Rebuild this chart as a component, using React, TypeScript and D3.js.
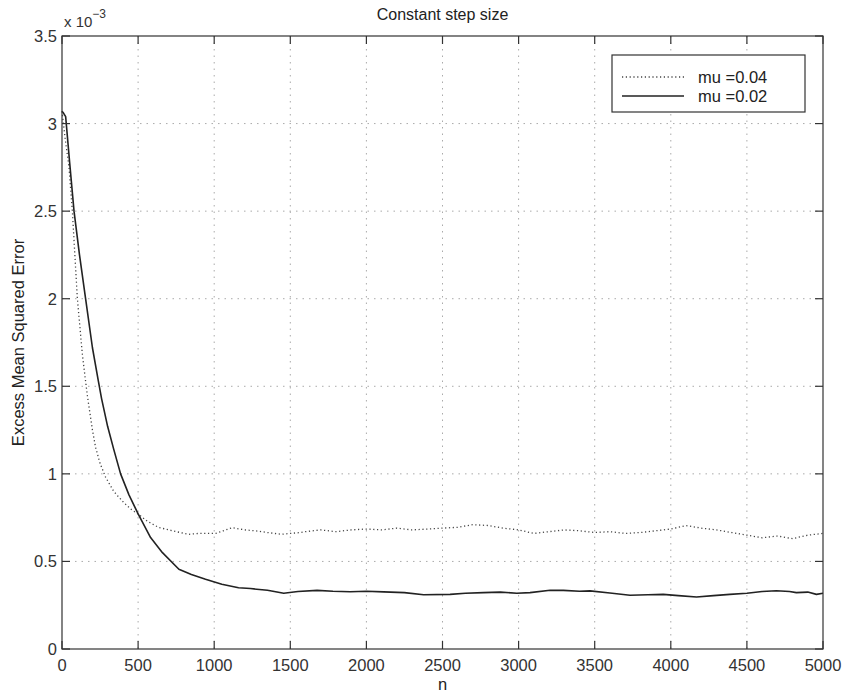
import React from "react";
import * as d3 from "d3";

const xTicks = [0, 500, 1000, 1500, 2000, 2500, 3000, 3500, 4000, 4500, 5000];
const yTicks = [0, 0.5, 1, 1.5, 2, 2.5, 3, 3.5];
const yTickLabels = ["0", "0.5", "1", "1.5", "2", "2.5", "3", "3.5"];

const nMu04 = [0, 20, 46, 68, 101, 134, 166, 200, 221, 250, 287, 340, 396, 450, 501, 560, 637, 680, 750, 834, 900, 1010, 1060, 1118, 1200, 1270, 1350, 1440, 1500, 1570, 1600, 1700, 1800, 1900, 2000, 2100, 2200, 2300, 2400, 2500, 2600, 2700, 2800, 2900, 3000, 3100, 3200, 3300, 3400, 3500, 3600, 3700, 3800, 3900, 4000, 4100, 4200, 4300, 4400, 4500, 4600, 4700, 4800, 4900, 5000];
const vMu04 = [3.07, 2.92, 2.75, 2.5, 2.0, 1.68, 1.45, 1.25, 1.15, 1.06, 0.98, 0.9, 0.845, 0.8, 0.77, 0.73, 0.693, 0.685, 0.67, 0.655, 0.66, 0.66, 0.675, 0.693, 0.68, 0.675, 0.665, 0.655, 0.66, 0.665, 0.67, 0.68, 0.67, 0.68, 0.685, 0.68, 0.69, 0.68, 0.685, 0.69, 0.695, 0.71, 0.705, 0.69, 0.68, 0.66, 0.67, 0.68, 0.675, 0.665, 0.67, 0.66, 0.665, 0.675, 0.685, 0.705, 0.69, 0.68, 0.665, 0.65, 0.635, 0.645, 0.63, 0.65, 0.66];

const nMu02 = [0, 10, 24, 50, 79, 115, 155, 200, 239, 260, 300, 340, 385, 440, 501, 582, 660, 768, 850, 943, 1050, 1160, 1238, 1350, 1457, 1550, 1676, 1780, 1894, 2000, 2113, 2250, 2376, 2550, 2650, 2769, 2880, 2988, 3075, 3207, 3294, 3400, 3469, 3600, 3732, 3850, 3950, 4050, 4169, 4280, 4388, 4500, 4600, 4694, 4780, 4825, 4900, 4957, 5000];
const vMu02 = [3.07, 3.06, 3.04, 2.78, 2.5, 2.25, 2.0, 1.72, 1.53, 1.43, 1.27, 1.14, 1.0, 0.88, 0.77, 0.636, 0.55, 0.455, 0.425, 0.398, 0.37, 0.35, 0.345, 0.335, 0.318, 0.328, 0.335, 0.33, 0.327, 0.33, 0.326, 0.322, 0.31, 0.312, 0.318, 0.322, 0.325, 0.318, 0.322, 0.335, 0.335, 0.33, 0.332, 0.32, 0.307, 0.31, 0.312, 0.305, 0.297, 0.305, 0.312, 0.318, 0.328, 0.333, 0.328, 0.322, 0.325, 0.312, 0.318];

const legendLabels = ["mu =0.04", "mu =0.02"];

const W = 844, H = 693;
const L = 62, R = 823, T = 36, B = 649;
const FONT = "'Liberation Sans', Arial, Helvetica, sans-serif";

export default function App() {
  const x = d3.scaleLinear().domain([0, 5000]).range([L, R]);
  const y = d3.scaleLinear().domain([0, 3.5]).range([B, T]);
  const line = d3.line<[number, number]>().x(d => x(d[0])).y(d => y(d[1]));
  const d04 = line(nMu04.map((n, i) => [n, vMu04[i]]) as [number, number][]) || "";
  const d02 = line(nMu02.map((n, i) => [n, vMu02[i]]) as [number, number][]) || "";
  const tl = 8;
  const lgL = 612, lgR = 805, lgT = 55, lgB = 112;
  return (
    <svg width={W} height={H} style={{ position: "absolute", left: 0, top: 0, background: "#fff" }} fontFamily={FONT}>
      <rect x={0} y={0} width={W} height={H} fill="#fff" />
      {/* grid */}
      {xTicks.slice(1, -1).map(t => (
        <line key={"gx" + t} x1={x(t)} x2={x(t)} y1={T} y2={B} stroke="#aaa" strokeWidth={1} strokeDasharray="1.5,5" />
      ))}
      {yTicks.slice(1, -1).map(t => (
        <line key={"gy" + t} x1={L} x2={R} y1={y(t)} y2={y(t)} stroke="#aaa" strokeWidth={1} strokeDasharray="1.5,5" />
      ))}
      {/* data */}
      <path d={d04} fill="none" stroke="#444" strokeWidth={1.3} strokeDasharray="1.2,2.6" />
      <path d={d02} fill="none" stroke="#222" strokeWidth={1.6} strokeLinejoin="round" />
      {/* box */}
      <rect x={L} y={T} width={R - L} height={B - T} fill="none" stroke="#333" strokeWidth={1.2} />
      {/* ticks */}
      {xTicks.map(t => (
        <g key={"tx" + t}>
          <line x1={x(t)} x2={x(t)} y1={B} y2={B - tl} stroke="#333" strokeWidth={1.2} />
          <line x1={x(t)} x2={x(t)} y1={T} y2={T + tl} stroke="#333" strokeWidth={1.2} />
          <text x={x(t)} y={671} textAnchor="middle" fontSize={16.5} fill="#333">{t}</text>
        </g>
      ))}
      {yTicks.map((t, i) => (
        <g key={"ty" + t}>
          <line x1={L} x2={L + tl} y1={y(t)} y2={y(t)} stroke="#333" strokeWidth={1.2} />
          <line x1={R} x2={R - tl} y1={y(t)} y2={y(t)} stroke="#333" strokeWidth={1.2} />
          <text x={57} y={y(t) + 6} textAnchor="end" fontSize={16.5} fill="#333">{yTickLabels[i]}</text>
        </g>
      ))}
      {/* exponent */}
      <text x={64} y={27} fontSize={15} fill="#333">x 10<tspan dy={-9} fontSize={12}>−3</tspan></text>
      {/* title */}
      <text x={(L + R) / 2} y={20} textAnchor="middle" fontSize={16} fill="#222">Constant step size</text>
      {/* axis labels */}
      <text x={(L + R) / 2} y={690} textAnchor="middle" fontSize={16.5} fill="#222">n</text>
      <text transform={`translate(24, ${(T + B) / 2}) rotate(-90)`} textAnchor="middle" fontSize={16.5} fill="#222">Excess Mean Squared Error</text>
      {/* legend */}
      <rect x={lgL} y={lgT} width={lgR - lgL} height={lgB - lgT} fill="#fff" stroke="#333" strokeWidth={1.2} />
      <line x1={622} x2={684} y1={77} y2={77} stroke="#444" strokeWidth={1.3} strokeDasharray="1.2,2.6" />
      <line x1={622} x2={684} y1={96} y2={96} stroke="#222" strokeWidth={1.6} />
      <text x={698} y={83} fontSize={16.5} fill="#222">{legendLabels[0]}</text>
      <text x={698} y={102} fontSize={16.5} fill="#222">{legendLabels[1]}</text>
    </svg>
  );
}
